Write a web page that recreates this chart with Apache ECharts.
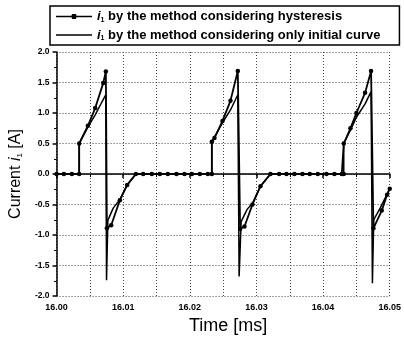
<!DOCTYPE html>
<html>
<head>
<meta charset="utf-8">
<style>
  html, body { margin: 0; padding: 0; background: #fff; }
  #chart { width: 404px; height: 343px; }
</style>
<script src="https://cdn.jsdelivr.net/npm/echarts@6/dist/echarts.min.js"></script>
</head>
<body>
<div id="chart"></div>
<script>
// time axis ticks [ms]
const xTicks = [16.00, 16.01, 16.02, 16.03, 16.04, 16.05];
const yTicks = [-2.0, -1.5, -1.0, -0.5, 0.0, 0.5, 1.0, 1.5, 2.0];

// i1 by the method considering hysteresis (marked)
const hystTime = [
  16.0000, 16.0011, 16.0023, 16.0034, 16.0034, 16.0047, 16.0058, 16.0070, 16.0074, 16.00755,
  16.0082, 16.0095, 16.0106, 16.0119, 16.0130, 16.0143, 16.0155, 16.0167, 16.0180, 16.0192,
  16.0203, 16.0215, 16.0227,
  16.0233, 16.0233, 16.0237, 16.0249, 16.0261, 16.0272, 16.02755, 16.0282, 16.0294, 16.0306,
  16.0321, 16.0334, 16.0345, 16.0357, 16.0369, 16.0380, 16.0392, 16.0405, 16.0417, 16.0428,
  16.0431, 16.0431, 16.0441, 16.0450, 16.0463, 16.0472, 16.04755, 16.0488, 16.0496, 16.0500
];
const hystCurrent = [
  0, 0, 0, 0, 0.50, 0.79, 1.08, 1.49, 1.68, -0.89,
  -0.84, -0.43, -0.18, 0, 0, 0, 0, 0, 0, 0,
  0, 0, 0,
  0, 0.53, 0.59, 0.87, 1.20, 1.69, -0.90, -0.86, -0.50, -0.20,
  0, 0, 0, 0, 0, 0, 0, 0, 0, 0,
  0, 0.50, 0.75, 1.00, 1.33, 1.69, -0.89, -0.60, -0.34, -0.24
];

// i1 by the method considering only initial curve
const initTime = [
  16.0000, 16.0034, 16.0034, 16.0047, 16.0058, 16.0068, 16.0074, 16.0075, 16.0077, 16.0085,
  16.0095, 16.0106, 16.0119, 16.0233,
  16.0233, 16.0249, 16.0261, 16.0272, 16.0274, 16.0277, 16.0286, 16.0294, 16.0306, 16.0321,
  16.0431,
  16.0431, 16.0441, 16.0450, 16.0463, 16.0472, 16.0474, 16.0476, 16.0486, 16.0496, 16.0500
];
const initCurrent = [
  0, 0, 0.50, 0.77, 0.97, 1.18, 1.30, -1.74, -0.76, -0.56,
  -0.42, -0.18, 0, 0,
  0.53, 0.84, 1.05, 1.30, -1.68, -0.78, -0.58, -0.48, -0.20, 0,
  0,
  0.50, 0.72, 0.93, 1.15, 1.35, -1.79, -0.75, -0.55, -0.33, -0.24
];

const legendText = {
  hyst: ' by the method considering hysteresis',
  init: ' by the method considering only initial curve'
};

const zip = (t, v) => t.map((x, i) => [x, v[i]]);

// legend icons: thin line, and thin line with a dot (octagon)
const iconLine = 'path://M0,2.3 L36,2.3 L36,3.7 L0,3.7 Z';
const iconLineDot = 'path://M0,2.3 L15.4,2.3 L16.2,0.5 L19.8,0.5 L20.6,2.3 L36,2.3 L36,3.7 ' +
  'L20.6,3.7 L19.8,5.5 L16.2,5.5 L15.4,3.7 L0,3.7 Z';

const chart = echarts.init(document.getElementById('chart'), null, { renderer: 'canvas' });

const dotted = { color: '#444', width: 1, type: [1, 2] };
const axisBlack = { color: '#000', width: 1.5 };

chart.setOption({
  backgroundColor: '#fff',
  animation: false,
  textStyle: { fontFamily: 'Liberation Sans, Arial, sans-serif', color: '#000' },
  grid: { left: 55, right: 9, top: 52, bottom: 47 },
  legend: {
    data: [
      { name: 'hyst', icon: iconLineDot },
      { name: 'init', icon: iconLine }
    ],
    orient: 'vertical',
    left: 50,
    top: 6,
    padding: [4, 19, 3, 6],
    itemGap: 5,
    itemWidth: 36,
    itemHeight: 14,
    borderColor: '#000',
    borderWidth: 1.5,
    formatter: name => '{i|i}{s|1}{b|' + legendText[name] + '}',
    textStyle: {
      rich: {
        i: { fontSize: 13, fontStyle: 'italic', fontWeight: 'bold', color: '#000' },
        s: { fontSize: 7, fontWeight: 'bold', color: '#000', padding: [7, 0, 0, 0] },
        b: { fontSize: 13, fontWeight: 'bold', color: '#000' }
      }
    }
  },
  xAxis: {
    type: 'value',
    min: xTicks[0],
    max: xTicks[xTicks.length - 1],
    interval: 0.01,
    name: 'Time [ms]',
    nameLocation: 'middle',
    nameGap: 21,
    nameTextStyle: { fontSize: 18, color: '#000', padding: [0, 0, 0, 10] },
    axisLine: { lineStyle: axisBlack },
    axisTick: { length: 4, lineStyle: axisBlack },
    minorTick: { show: true, splitNumber: 2, length: 3, lineStyle: { color: '#000', width: 1 } },
    axisLabel: {
      fontSize: 9, fontWeight: 'bold', color: '#000', margin: 7,
      formatter: v => v.toFixed(2)
    },
    splitLine: { show: true, lineStyle: dotted },
    minorSplitLine: { show: true, lineStyle: dotted }
  },
  yAxis: {
    type: 'value',
    min: yTicks[0],
    max: yTicks[yTicks.length - 1],
    interval: 0.5,
    name: '{n|Current }{i|i}{s|1}{n| [A]}',
    nameLocation: 'middle',
    nameGap: 24,
    nameTextStyle: {
      rich: {
        n: { fontSize: 16, color: '#000' },
        i: { fontSize: 16, fontStyle: 'italic', color: '#000' },
        s: { fontSize: 8, color: '#000', padding: [8, 0, 0, 0] }
      }
    },
    axisLine: { lineStyle: axisBlack },
    axisTick: { length: 4, lineStyle: axisBlack },
    minorTick: { show: true, splitNumber: 2, length: 2.5, lineStyle: { color: '#000', width: 1 } },
    axisLabel: {
      fontSize: 8.5, fontWeight: 'bold', color: '#000', margin: 7,
      formatter: v => v.toFixed(1)
    },
    splitLine: { show: true, lineStyle: dotted }
  },
  series: [
    {
      name: 'hyst',
      type: 'line',
      data: zip(hystTime, hystCurrent),
      symbol: 'circle',
      symbolSize: 4.5,
      itemStyle: { color: '#000' },
      lineStyle: { color: '#000', width: 1.8 },
      z: 3
    },
    {
      name: 'init',
      type: 'line',
      data: zip(initTime, initCurrent),
      symbol: 'none',
      itemStyle: { color: '#000' },
      lineStyle: { color: '#000', width: 1.5 },
      z: 2
    }
  ]
});
</script>
</body>
</html>
